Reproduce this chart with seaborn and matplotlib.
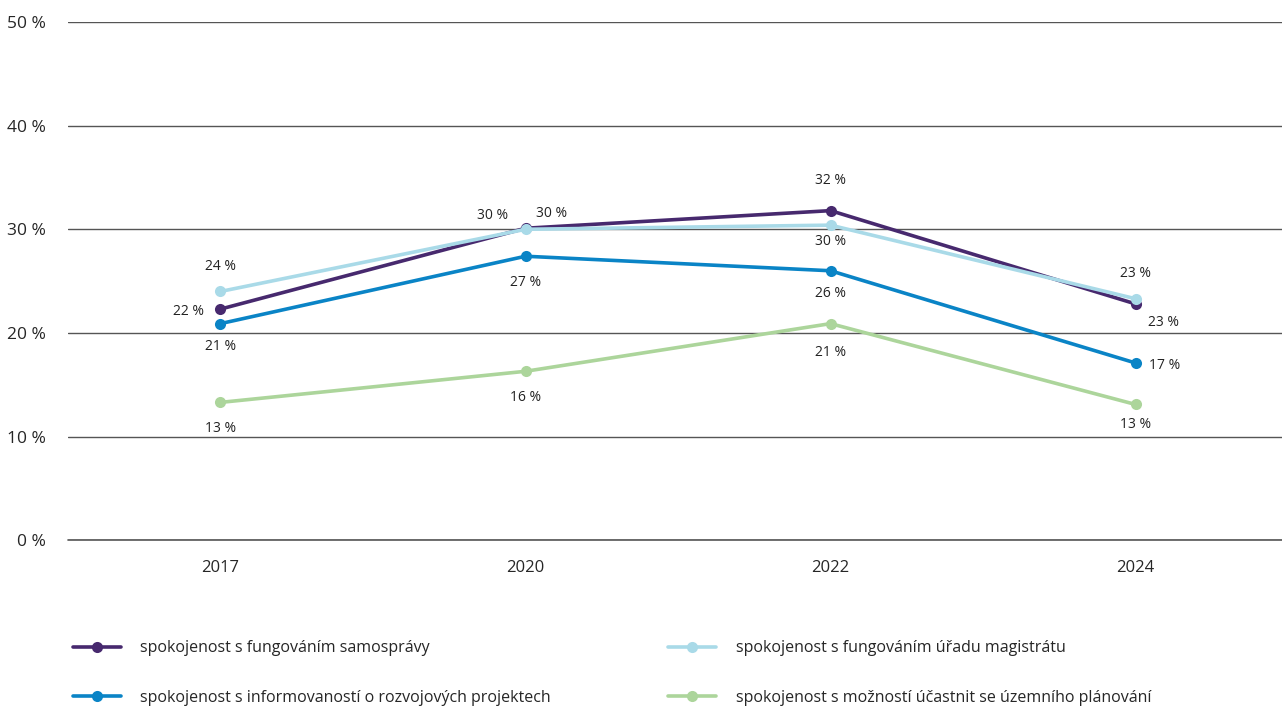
import matplotlib
matplotlib.use("Agg")
import matplotlib.pyplot as plt
import seaborn as sns
import pandas as pd
from matplotlib.lines import Line2D

years = ["2017", "2020", "2022", "2024"]
series_names = [
    "spokojenost s fungováním samosprávy",
    "spokojenost s fungováním úřadu magistrátu",
    "spokojenost s informovaností o rozvojových projektech",
    "spokojenost s možností účastnit se územního plánování",
]
samosprava = [22.3, 30.1, 31.8, 22.8]
urad = [24.0, 30.0, 30.4, 23.3]
informovanost = [20.9, 27.4, 26.0, 17.1]
planovani = [13.3, 16.3, 20.9, 13.1]
colors = ["#47296e", "#a9dae8", "#0a84c6", "#acd59b"]

# label offsets (points) per series and year
offsets = [
    [(-23, -1.5), (-24, 9.5), (0, 21.5), (20, -13.7)],
    [(0, 18), (19, 11.5), (0, -11.5), (0, 18)],
    [(0, -16.5), (0, -18.7), (0, -16.5), (21, -1.5)],
    [(0, -19), (0, -19), (0, -21), (0, -14.4)],
]

values = [samosprava, urad, informovanost, planovani]
rows = []
for name, vals in zip(series_names, values):
    for i, v in enumerate(vals):
        rows.append({"rok": i, "hodnota": v, "serie": name})
df = pd.DataFrame(rows)

sns.set_style("white")
plt.rcParams["font.family"] = ["Open Sans", "DejaVu Sans"]

fig = plt.figure(figsize=(12.82, 7.09), dpi=100)
ax = fig.add_axes([0.053, 0.238, 0.947, 0.731])

palette = dict(zip(series_names, colors))
sns.lineplot(data=df, x="rok", y="hodnota", hue="serie", hue_order=series_names,
             palette=palette, marker="o", markersize=8, markeredgewidth=0,
             linewidth=2.6, ax=ax, legend=False, zorder=3)

for vals, offs in zip(values, offsets):
    for i, (v, o) in enumerate(zip(vals, offs)):
        ax.annotate(f"{round(v)} %", (i, v), xytext=o, textcoords="offset points",
                    ha="center", va="center", fontsize=10, color="#222222")

ax.set_xlim(-0.5, 3.48)
ax.set_ylim(0, 50)
ax.set_yticks(range(0, 51, 10))
ax.set_yticklabels([f"{t} %" for t in range(0, 51, 10)], fontsize=12.5)
ax.set_xticks(range(len(years)))
ax.set_xticklabels(years, fontsize=12)
ax.tick_params(axis="both", length=0, pad=14)
ax.tick_params(axis="y", pad=16)
ax.grid(axis="y", color="#555555", linewidth=1)
ax.axhline(0, color="#555555", linewidth=1.2, zorder=1, clip_on=False)
ax.set_axisbelow(True)
for s in ax.spines.values():
    s.set_visible(False)
ax.set_xlabel("")
ax.set_ylabel("")

handles = [Line2D([0], [0], color=c, lw=2.6, marker="o", markersize=8, markeredgewidth=0)
           for c in colors]
order = [0, 2, 1, 3]
fig.legend([handles[i] for i in order], [series_names[i] for i in order],
           loc="lower left", bbox_to_anchor=(0.046, -0.016), ncol=2, frameon=False,
           fontsize=11.5, handlelength=3.0, handletextpad=1.2, columnspacing=7.35,
           labelspacing=2.1)

fig.savefig("out.png", dpi=100)
